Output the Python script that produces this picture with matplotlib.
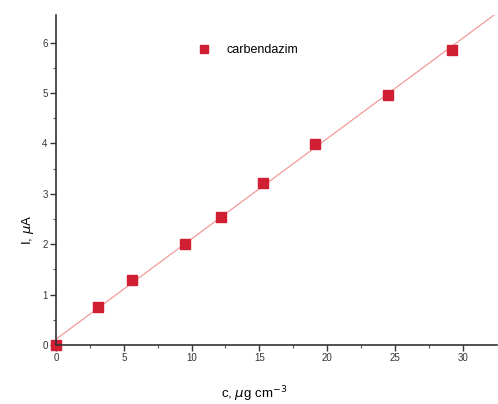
import numpy as np
import matplotlib
matplotlib.use("Agg")
import matplotlib.pyplot as plt

plt.rcParams['font.family'] = ['Liberation Sans', 'DejaVu Sans']

conc = [0.0, 3.1, 5.6, 9.5, 12.2, 15.3, 19.1, 24.5, 29.2]
current = [0.0, 0.75, 1.29, 2.01, 2.55, 3.21, 3.99, 4.97, 5.86]
series_label = "carbendazim"
xticks = [0, 5, 10, 15, 20, 25, 30]
yticks = [0, 1, 2, 3, 4, 5, 6]

fig = plt.figure(figsize=(4.98, 4.04), dpi=100)
ax = fig.add_axes([0.1124, 0.146, 0.885, 0.817])

slope, intercept = np.polyfit(conc, current, 1)
xl = np.array([0, 32.5])
ax.plot(xl, intercept + slope * xl, color='#f29a9a', lw=0.9, zorder=1)
ax.plot(conc, current, 's', color='#d01f33', markersize=6.5, lw=0,
        label=series_label, zorder=2, clip_on=False)

ax.set_xlim(0, 32.5)
ax.set_ylim(0, 6.55)
ax.set_xticks(xticks)
ax.set_yticks(yticks)
ax.set_xticks(np.arange(2.5, 32.5, 5), minor=True)
ax.set_yticks(np.arange(0.5, 6.5, 1), minor=True)
ax.spines['top'].set_visible(False)
ax.spines['right'].set_visible(False)
for s in ('left', 'bottom'):
    ax.spines[s].set_linewidth(1.2)
    ax.spines[s].set_color('#333333')
ax.tick_params(which='major', direction='out', length=4, width=1, labelsize=7,
               colors='#333333', pad=2)
ax.tick_params(which='minor', direction='out', length=2.5, width=0.8,
               colors='#555555')

ax.set_xlabel(r"c, $\mu$g cm$^{-3}$", fontsize=9.5)
ax.xaxis.set_label_coords(0.45, -0.118)
ax.set_ylabel(r"I, $\mu$A", fontsize=9.5)
ax.yaxis.set_label_coords(-0.045, 0.35)

ax.legend(loc='upper left', bbox_to_anchor=(0.283, 0.945), frameon=False,
          fontsize=9, handletextpad=0.8, markerscale=0.9)

fig.savefig("out.png", dpi=100)
